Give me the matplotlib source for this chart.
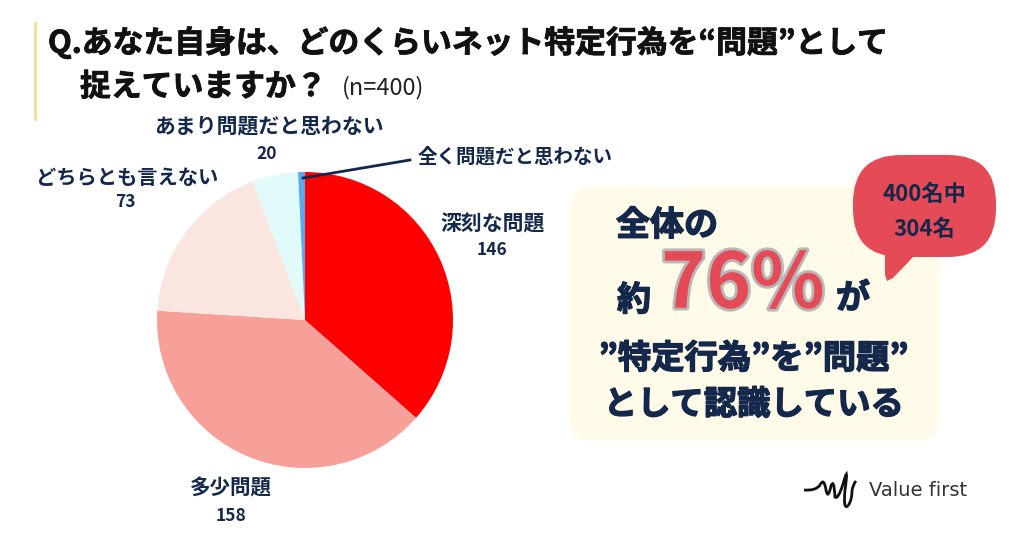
import matplotlib

matplotlib.use("Agg")

import matplotlib.patheffects as pe
import matplotlib.pyplot as plt
from matplotlib.patches import FancyBboxPatch, PathPatch, Rectangle
from matplotlib.path import Path

plt.rcParams["font.family"] = ["Noto Sans CJK JP", "DejaVu Sans"]

# data
labels = ["深刻な問題", "多少問題", "どちらとも言えない", "あまり問題だと思わない", "全く問題だと思わない"]
values = [146, 158, 73, 20, 3]
colors = ["#FF0000", "#F7A099", "#F9E6E0", "#E1FAFA", "#5BA8EE"]

NAVY = "#14284B"
RED = "#E54A57"

fig = plt.figure(figsize=(10.24, 5.36), dpi=100)

# canvas in pixels, y pointing down
bg = fig.add_axes([0, 0, 1, 1])
bg.set_xlim(0, 1024)
bg.set_ylim(536, 0)
bg.axis("off")


def bold_text(x, y, s, size, color=NAVY, stroke=0.0, ha="center", ax=None):
    t = (ax or bg).text(x, y + 2, s, fontsize=size, color=color, ha=ha, va="center",
                        fontweight="bold")
    if stroke:
        t.set_path_effects([pe.withStroke(linewidth=stroke, foreground=color)])
    return t


# header
bg.add_patch(Rectangle((34, 22), 3, 99, color="#F5DF96", lw=0))
bold_text(48, 41, "Q.あなた自身は、どのくらいネット特定行為を“問題”として", 22.2,
          color="#111111", stroke=0.6, ha="left")
bold_text(80, 85, "捉えていますか？", 22.2, color="#111111", stroke=0.6, ha="left")
bg.text(342, 88, "(n=400)", fontsize=17, color="#222222", ha="left", va="center")

# pie
cx, cy, r = 305, 320, 148
pie_ax = fig.add_axes([(cx - r) / 1024, (536 - cy - r) / 536, 2 * r / 1024, 2 * r / 536])
pie_ax.pie(values, colors=colors, startangle=90, counterclock=False, radius=1)
pie_ax.set_xlim(-1, 1)
pie_ax.set_ylim(-1, 1)

# pie labels
bold_text(269, 124, labels[3], 15)
bold_text(267, 152, str(values[3]), 12.5)
bold_text(127, 175, labels[2], 14.6)
bold_text(125, 200, str(values[2]), 12.5)
bold_text(493, 222, labels[0], 15)
bold_text(492, 248, str(values[0]), 12.5)
bold_text(231, 486, labels[1], 14.8)
bold_text(231, 514, str(values[1]), 12.5)
bold_text(515, 155, labels[4], 14)
top = fig.add_axes([0, 0, 1, 1], facecolor="none")
top.set_xlim(0, 1024)
top.set_ylim(536, 0)
top.axis("off")
top.plot([303, 410], [178, 160], color=NAVY, lw=2)

# callout panel
bg.add_patch(FancyBboxPatch((590, 207), 329, 214, boxstyle="round,pad=20,rounding_size=22",
                            fc="#FFFBE8", ec="none"))
bold_text(667, 223, "全体の", 24.5, stroke=1.0)
bold_text(634, 298, "約", 24.5, stroke=1.0)
bold_text(853, 296, "が", 24.5, stroke=1.0)
t = bold_text(743, 283, "76%", 55, color=RED)
t.set_path_effects([pe.withStroke(linewidth=4, foreground="#B8B8B8")])
bold_text(754, 357, "”特定行為”を”問題”", 24, stroke=1.0)
bold_text(754, 403, "として認識している", 24, stroke=1.0)

# speech bubble
top.add_patch(FancyBboxPatch((898, 200), 53, 12, boxstyle="round,pad=45,rounding_size=48",
                             fc=RED, ec="none"))
top.add_patch(PathPatch(Path([(885, 240), (885, 275), (887, 281), (893, 278), (915, 255)]),
                        fc=RED, ec="none"))
bold_text(924, 192, "400名中", 16, ax=top)
bold_text(924, 227, "304名", 16, ax=top)

# logo
codes = [Path.MOVETO] + [Path.CURVE3] * 14
mark = Path([(804, 490), (816, 491), (820, 485), (824, 477), (826, 490), (828, 500), (831, 486),
             (834, 478), (835, 497), (838, 500), (843, 484), (849, 462), (845, 490),
             (843, 510), (848, 506)], codes)
tail = Path([(848, 506), (852, 500), (852, 491), (853, 484), (856, 481)],
            [Path.MOVETO] + [Path.CURVE3] * 4)
top.add_patch(PathPatch(mark, fc="none", ec="#111111", lw=2))
top.add_patch(PathPatch(tail, fc="none", ec="#111111", lw=2))
top.text(869, 490, "Value first", fontsize=14, color="#333333", ha="left", va="center",
         fontfamily="DejaVu Sans")

fig.savefig("out.png", dpi=100)
